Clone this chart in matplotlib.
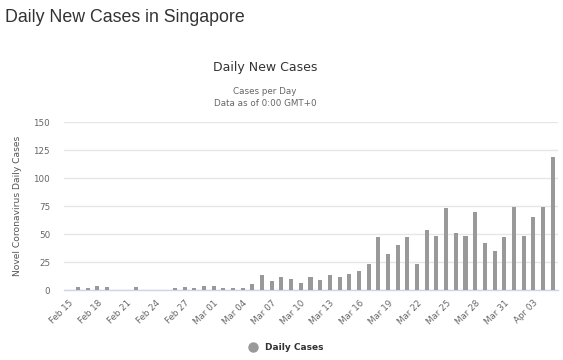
import numpy as np
import pandas as pd
import matplotlib
matplotlib.use("Agg")
from matplotlib import pyplot as plt

# daily new cases, Feb 15 .. Apr 05 2020
dates = pd.date_range("2020-02-15", "2020-04-05", freq="D")
cases = [0, 3, 2, 4, 3, 0, 0, 3, 0, 0,
         0, 2, 3, 2, 4, 4, 2, 2, 2, 5,
         13, 8, 12, 10, 6, 12, 9, 13, 12, 14,
         17, 23, 47, 32, 40, 47, 23, 54, 48, 73,
         51, 48, 70, 42, 35, 47, 74, 48, 65, 74,
         119]
yticks = [0, 25, 50, 75, 100, 125, 150]

W, H = 563, 360
fig = plt.figure(figsize=(W / 100, H / 100), dpi=100)

# plot area in pixels: left 64, right 558, top 122, bottom 290
ax = fig.add_axes([64 / W, 1 - 290 / H, (558 - 64) / W, (290 - 122) / H])
x = np.arange(len(cases))
ax.bar(x, cases, width=0.42, color="#999999", zorder=3)

ax.set_xlim(-0.45, len(cases) - 0.45)
ax.set_ylim(0, 150)
ax.set_yticks(yticks)
ax.set_yticklabels([str(v) for v in yticks])
ax.grid(axis="y", color="#e6e6e6", linewidth=1, zorder=0)

ticks = x[::3]
ax.set_xticks(ticks)
ax.set_xticklabels([d.strftime("%b %d") for d in dates[::3]], rotation=45,
                   ha="right", rotation_mode="anchor")
ax.tick_params(axis="x", length=0, pad=6, labelsize=6.3, labelcolor="#666666")
ax.tick_params(axis="y", length=0, pad=10, labelsize=6.3, labelcolor="#666666")

for s in ["top", "right", "left"]:
    ax.spines[s].set_visible(False)
ax.spines["bottom"].set_color("#ccd6eb")
ax.spines["bottom"].set_linewidth(1)

ax.set_ylabel("Novel Coronavirus Daily Cases", fontsize=6.6, color="#555555", labelpad=8)

fig.text(5 / W, 1 - 18 / H, "Daily New Cases in Singapore", fontsize=12.8,
         family="Liberation Sans", color="#333333", va="center", ha="left")
fig.text(265 / W, 1 - 68 / H, "Daily New Cases", fontsize=9.0, color="#333333",
         ha="center", va="center")
fig.text(265 / W, 1 - 92 / H, "Cases per Day", fontsize=6.3, color="#666666",
         ha="center", va="center")
fig.text(265 / W, 1 - 103 / H, "Data as of 0:00 GMT+0", fontsize=6.3, color="#666666",
         ha="center", va="center")

# legend
fig.lines.append(plt.Line2D([253 / W], [1 - 347 / H], marker="o", markersize=6.5,
                            color="#999999", transform=fig.transFigure))
fig.text(265 / W, 1 - 347 / H, "Daily Cases", fontsize=6.5, fontweight="bold",
         color="#333333", va="center", ha="left")

fig.savefig("out.png", dpi=100)
